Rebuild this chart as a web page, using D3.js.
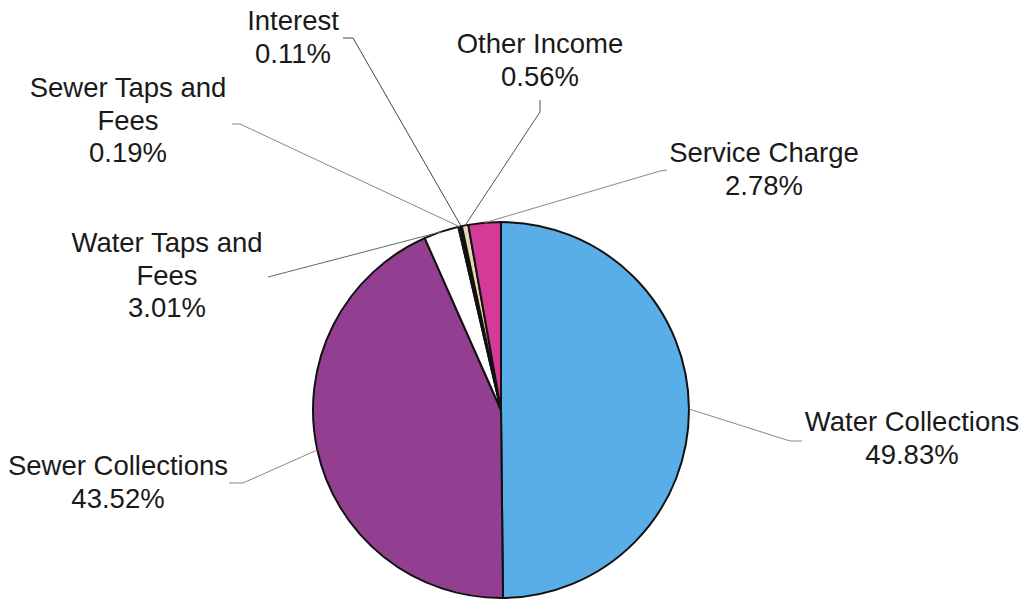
<!DOCTYPE html>
<html>
<head>
<meta charset="utf-8">
<script src="https://cdn.jsdelivr.net/npm/d3@7"></script>
<style>
  body { margin: 0; background: #fff; }
  text { font-family: "Liberation Sans", Arial, sans-serif; }
</style>
</head>
<body>
<svg width="1026" height="603"></svg>
<script>
// data, clockwise from 12 o'clock
var categories = ["Water Collections", "Sewer Collections", "Water Taps and Fees",
  "Sewer Taps and Fees", "Interest", "Other Income", "Service Charge"];
var shares = [49.83, 43.52, 3.01, 0.19, 0.11, 0.56, 2.78];
var sliceColors = ["#5aaee8", "#933f91", "#ffffff", "#235a2c", "#141414", "#e8d6b2", "#d43a98"];

// label layout: wrapped lines, text centre, first baseline, elbow points of leader
var labelLines = [
  ["Water Collections"],
  ["Sewer Collections"],
  ["Water Taps and", "Fees"],
  ["Sewer Taps and", "Fees"],
  ["Interest"],
  ["Other Income"],
  ["Service Charge"]
];
var labelPos = [
  {x: 912, y: 431, pts: [[802, 441], [790, 441]]},
  {x: 118, y: 475, pts: [[229, 483], [243, 483]]},
  {x: 167, y: 252, pts: [[268, 277]]},
  {x: 128, y: 97,  pts: [[232, 124], [240, 124]]},
  {x: 293, y: 30,  pts: [[343, 38], [353, 38]]},
  {x: 540, y: 53,  pts: [[540, 100], [540, 112]]},
  {x: 764, y: 162, pts: [[667, 170], [660, 171]]}
];
var leaderColors = ["#888", "#888", "#666", "#888", "#444", "#555", "#888"];

var svg = d3.select("svg"),
  cx = 501, cy = 410, radius = 188, lineH = 32.5;

var data = categories.map(function (c, i) {
  return {name: c, value: shares[i], i: i};
});

var pie = d3.pie().sort(null).value(function (d) { return d.value; });
var arcs = pie(data);

var arc = d3.arc().innerRadius(0).outerRadius(radius);
var edge = d3.arc().innerRadius(radius).outerRadius(radius);

var g = svg.append("g").attr("transform", "translate(" + cx + "," + cy + ")");

g.selectAll("path.slice")
  .data(arcs)
  .enter().append("path")
  .attr("class", "slice")
  .attr("d", arc)
  .attr("fill", function (d) { return sliceColors[d.data.i]; })
  .attr("stroke", "#111")
  .attr("stroke-width", 2)
  .attr("stroke-linejoin", "round");

// leader lines
var line = d3.line();
svg.append("g").attr("class", "leaders")
  .selectAll("path")
  .data(arcs)
  .enter().append("path")
  .attr("d", function (d) {
    var p = edge.centroid(d);
    var pts = labelPos[d.data.i].pts.concat([[p[0] + cx, p[1] + cy]]);
    return line(pts);
  })
  .attr("fill", "none")
  .attr("stroke", function (d) { return leaderColors[d.data.i]; })
  .attr("stroke-width", 1);

// labels
var labels = svg.append("g").attr("class", "labels")
  .selectAll("text")
  .data(arcs)
  .enter().append("text")
  .attr("text-anchor", "middle")
  .attr("font-size", 27.5)
  .attr("fill", "#1a1a1a");

labels.each(function (d) {
  var t = d3.select(this), pos = labelPos[d.data.i];
  var lines = labelLines[d.data.i].concat([d3.format(".2f")(d.data.value) + "%"]);
  lines.forEach(function (s, k) {
    t.append("tspan")
      .attr("x", pos.x)
      .attr("y", pos.y + k * lineH)
      .text(s);
  });
});
</script>
</body>
</html>
